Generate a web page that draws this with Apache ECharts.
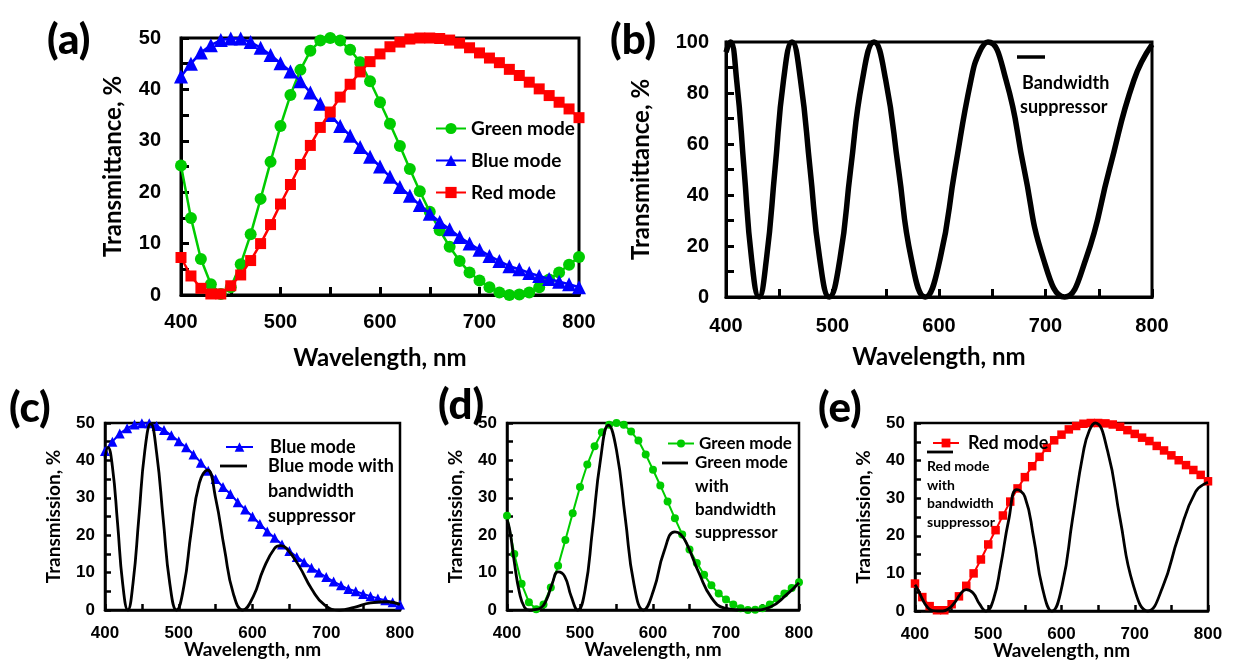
<!DOCTYPE html>
<html><head><meta charset="utf-8">
<script src="https://cdn.jsdelivr.net/npm/echarts@6/dist/echarts.min.js"></script>
<style>html,body{margin:0;padding:0;background:#fff}#c{width:1238px;height:661px}</style>
</head><body><div id="c"></div>
<script>
// ---- data ----
const wavelengths = [400,410,420,430,440,450,460,470,480,490,500,510,520,530,540,550,560,570,580,590,600,610,620,630,640,650,660,670,680,690,700,710,720,730,740,750,760,770,780,790,800];
const greenMode = [25.2,15,7,2.1,0.2,1.5,6,11.8,18.7,25.9,32.9,38.9,43.8,47.5,49.5,50,49.5,47.7,45.3,41.6,37.5,33.3,29,24.5,20.2,16.2,12.6,9.4,6.6,4.4,2.8,1.5,0.5,0,0.1,0.5,1.5,3,4.4,5.9,7.4];
const blueMode = [42.5,45,47.2,48.6,49.6,49.9,49.9,49.2,48.1,46.7,45.1,43.5,41.6,39.4,37.2,35,32.9,31,28.8,26.9,25,23,21,19.3,17.5,15.8,14.2,12.8,11.3,10,8.8,7.6,6.6,5.6,5,4.3,3.7,3.1,2.6,2.1,1.5];
const redMode = [7.3,3.7,1.3,0.2,0.2,1.8,3.9,6.7,10,13.7,17.7,21.5,25.4,29.1,32.6,35.6,38.5,41,43.4,45.4,46.9,48.3,49.2,49.8,50,50,49.9,49.6,49,48.1,47.1,46.1,45.2,43.9,42.7,41.4,40.1,38.8,37.5,36.2,34.5];

const suppWl = [400,404,410,417,424,431,438,446,454,462,470,479,488,497,507,517,528,539,550,562,574,587,601,615,630,638,646,663,680,698,718,738,760,783,800];
const suppressor = [96,100,85,50,15,0,15,50,85,100,85,50,15,0,15,50,85,100,85,50,15,0,15,50,85,96,100,85,50,15,0,15,50,85,99];
const blueSupp = [40.8,43.5,38.4,23.3,7,0,7.2,24.9,42.6,49.8,42,24.1,6.9,0,6.4,21.1,34,37.4,29.9,16.3,4.4,0,3.6,11,16.5,17.2,16.5,11.8,5.7,1.3,0,0.7,1.9,2.2,1.5];
const greenSupp = [24.2,21.1,12.8,4.7,0.7,0,0.1,0.5,2.7,7.1,10.2,9,3.6,0,5.4,21.3,40.1,49.4,42.7,24.6,6.8,0,5.4,15.6,20.9,20.2,17.8,9.9,3.3,0.5,0,0,0.75,4.1,7.3];
const redSupp = [7,5.7,3.2,1,0.1,0,0,0.6,2.2,4.5,5.7,4.85,1.9,0,3,12.1,24.3,32.3,30.4,19.5,6.1,0,6.9,24.4,42.5,48,50,42.5,24.5,6.9,0,6.3,20,31.7,34.2];

const panelLabels = ['(a)','(b)','(c)','(d)','(e)'];

// ---- helpers ----
const pair = (xs, ys) => xs.map((x, i) => [x, ys[i]]);
const GREEN = '#00cc00', BLUE = '#0000ff', RED = '#ff0000';
const TICKFONT = 'Liberation Sans', TITLEFONT = 'Lato';

const grids = [
  {left:181, top:38, width:398, height:257, bw:3},
  {left:726, top:42, width:426, height:255, bw:3},
  {left:105, top:423, width:295, height:187, bw:2.5},
  {left:507, top:423, width:292, height:187, bw:2.5},
  {left:915, top:423, width:293, height:188, bw:2.5}
];
const axCfg = [
  {fs:20, tick:8, xm:17, ym:20, nfs:24, xng:51, yng:56, ymax:50, yint:10, yname:'Transmittance, %'},
  {fs:20, tick:8, xm:19, ym:17, nfs:24, xng:48, yng:73, ymax:100, yint:20, yname:'Transmittance, %'},
  {fs:17, tick:6, xm:15, ym:10, nfs:19, xng:30, yng:42, ymax:50, yint:10, yname:'Transmission, %'},
  {fs:17, tick:6, xm:15, ym:10, nfs:19, xng:30, yng:42, ymax:50, yint:10, yname:'Transmission, %'},
  {fs:17, tick:6, xm:15, ym:10, nfs:19, xng:30, yng:42, ymax:50, yint:10, yname:'Transmission, %'}
];

const xAxes = [], yAxes = [];
grids.forEach((g, i) => {
  const o = axCfg[i];
  const line = {color:'#000', width:g.bw};
  xAxes.push({
    gridIndex:i, type:'value', min:400, max:800, interval:100,
    axisLine:{show:true, onZero:false, lineStyle:line},
    axisTick:{show:true, inside:true, length:o.tick, lineStyle:line},
    minorTick:{show:true, splitNumber:2, length:o.tick, lineStyle:line},
    splitLine:{show:false}, minorSplitLine:{show:false},
    axisLabel:{margin:o.xm, color:'#000', fontFamily:TICKFONT, fontWeight:'bold', fontSize:o.fs},
    name:'Wavelength, nm', nameLocation:'middle', nameGap:o.xng, nameMoveOverlap:false,
    nameTextStyle:{color:'#000', fontFamily:TITLEFONT, fontWeight:'bold', fontSize:o.nfs}
  });
  yAxes.push({
    gridIndex:i, type:'value', min:0, max:o.ymax, interval:o.yint,
    axisLine:{show:true, onZero:false, lineStyle:line},
    axisTick:{show:true, inside:true, length:o.tick, lineStyle:line},
    minorTick:{show:true, splitNumber:2, length:o.tick, lineStyle:line},
    splitLine:{show:false}, minorSplitLine:{show:false},
    axisLabel:{margin:o.ym, color:'#000', fontFamily:TICKFONT, fontWeight:'bold', fontSize:o.fs},
    name:o.yname, nameLocation:'middle', nameGap:o.yng, nameMoveOverlap:false,
    nameTextStyle:{color:'#000', fontFamily:TITLEFONT, fontWeight:'bold', fontSize:o.nfs}
  });
});

function modeSeries(name, vals, color, symbol, size, lw, idx, z) {
  return {type:'line', name, xAxisIndex:idx, yAxisIndex:idx, data:pair(wavelengths, vals),
    symbol, symbolSize:size, showAllSymbol:true, clip:false, z,
    lineStyle:{color, width:lw}, itemStyle:{color, borderWidth:0}, animation:false};
}
function blackSeries(name, vals, lw, idx) {
  return {type:'line', name, xAxisIndex:idx, yAxisIndex:idx, data:pair(suppWl, vals),
    smooth:0.5, symbol:'none', clip:false, z:5,
    lineStyle:{color:'#000', width:lw}, itemStyle:{color:'#000'}, animation:false};
}

const series = [
  modeSeries('Green mode', greenMode, GREEN, 'circle', 12, 2.5, 0, 2),
  modeSeries('Blue mode', blueMode, BLUE, 'triangle', 14, 2.5, 0, 3),
  modeSeries('Red mode', redMode, RED, 'rect', 11, 2.5, 0, 4),
  blackSeries('Bandwidth suppressor', suppressor, 5.5, 1),
  modeSeries('Blue mode', blueMode, BLUE, 'triangle', 10, 2, 2, 2),
  blackSeries('Blue mode with bandwidth suppressor', blueSupp, 2.8, 2),
  modeSeries('Green mode', greenMode, GREEN, 'circle', 8, 2, 3, 2),
  blackSeries('Green mode with bandwidth suppressor', greenSupp, 2.8, 3),
  modeSeries('Red mode', redMode, RED, 'rect', 8.5, 2, 4, 2),
  blackSeries('Red mode with bandwidth suppressor', redSupp, 2.8, 4)
];

const legTxt = (fs) => ({color:'#000', fontFamily:TITLEFONT, fontWeight:'bold', fontSize:fs});
const legends = [
  {orient:'vertical', left:430, top:114, itemWidth:30, itemHeight:14, itemGap:13, selectedMode:false,
   data:['Green mode','Blue mode','Red mode'], textStyle:legTxt(19)},
  {left:220, top:433, itemWidth:27, itemHeight:12, selectedMode:false, data:['Blue mode'],
   textStyle:Object.assign(legTxt(18), {padding:[0,0,0,12]})},
  {left:662, top:430, itemWidth:26, itemHeight:10, selectedMode:false, data:['Green mode'],
   textStyle:Object.assign(legTxt(17), {padding:[0,0,0,0]})},
  {left:927, top:429, itemWidth:26, itemHeight:11, selectedMode:false, data:['Red mode'],
   textStyle:Object.assign(legTxt(18), {padding:[0,0,0,4]})}
];

// custom legend entries for the black curves + panel letters
const g = [];
const txt = (s, x, y, fs, w) => g.push({type:'text', x, y, silent:true,
  style:{text:s, font:(w || 'bold') + ' ' + fs + 'px Lato', fill:'#000', align:'left', verticalAlign:'middle'}});
const seg = (x1, x2, y, w) => g.push({type:'line', silent:true, shape:{x1, y1:y, x2, y2:y}, style:{stroke:'#000', lineWidth:w}});
const labelPos = [[47,40],[610,40],[9,408],[438,405],[818,408]];
panelLabels.forEach((s, i) => txt(s, labelPos[i][0], labelPos[i][1], 42, '900'));
// (b)
seg(1017, 1045, 57, 3.5); txt('Bandwidth', 1022, 83, 18); txt('suppressor', 1020, 107, 18);
// (c)
seg(220, 247, 466, 2.8); txt('Blue mode with', 268, 466, 18); txt('bandwidth', 268, 491, 18); txt('suppressor', 268, 516, 18);
// (d)
seg(662, 688, 463, 2.8); txt('Green mode', 695, 463, 17); txt('with', 695, 487, 17); txt('bandwidth', 695, 510, 17); txt('suppressor', 695, 533, 17);
// (e)
seg(927, 953, 452, 2.8); txt('Red mode', 927, 466, 14); txt('with', 927, 485, 14); txt('bandwidth', 927, 503, 14); txt('suppressor', 927, 522, 14);

const chart = echarts.init(document.getElementById('c'), null, {renderer:'canvas'});
chart.setOption({
  animation:false,
  backgroundColor:'#fff',
  grid: grids.map(gr => ({left:gr.left, top:gr.top, width:gr.width, height:gr.height, show:true,
    borderColor:'#000', borderWidth:gr.bw, backgroundColor:'transparent', containLabel:false, outerBoundsMode:'none'})),
  xAxis: xAxes,
  yAxis: yAxes,
  legend: legends,
  series,
  graphic: g
});
</script></body></html>
